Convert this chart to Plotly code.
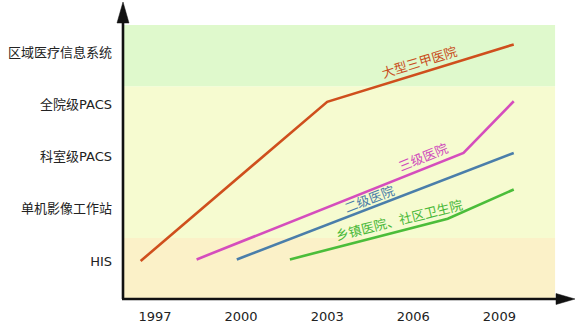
import plotly.graph_objects as go

# Adoption stages (y levels) and timeline ticks
stage_labels = ["HIS", "单机影像工作站", "科室级PACS", "全院级PACS", "区域医疗信息系统"]
stage_levels = [1, 2, 3, 4, 5]
year_ticks = [1997, 2000, 2003, 2006, 2009]

# Development paths of each hospital tier
big_years = [1996.5, 2003.0, 2009.5]
big_levels = [1.0, 4.05, 5.15]

tier3_years = [1998.45, 2007.75, 2009.5]
tier3_levels = [1.03, 3.07, 4.06]

tier2_years = [1999.85, 2009.5]
tier2_levels = [1.03, 3.07]

town_years = [2001.7, 2007.2, 2009.5]
town_levels = [1.03, 1.81, 2.37]

# Background bands: (from level, to level, colour)
band_edges = [0.272, 1.44, 4.35, 5.52]
band_colors = ["#fbf1c8", "#f6fbd0", "#dff9cc"]

X_RANGE = [1995.85, 2011.46]
Y_RANGE = [0.272, 5.943]
BAND_X_END = 2010.94

FONT = "DejaVu Sans, Noto Sans CJK SC, sans-serif"

fig = go.Figure()

series = [
    (big_years, big_levels, "#cf4f1d", "大型三甲医院"),
    (tier3_years, tier3_levels, "#d54dbd", "三级医院"),
    (tier2_years, tier2_levels, "#4a7eaa", "二级医院"),
    (town_years, town_levels, "#4bbd3a", "乡镇医院、社区卫生院"),
]
for xs, ys, color, name in series:
    fig.add_trace(go.Scatter(x=xs, y=ys, mode="lines", name=name,
                             line=dict(color=color, width=2.6),
                             hoverinfo="skip", showlegend=False))

shapes = []
for i, col in enumerate(band_colors):
    shapes.append(dict(type="rect", xref="x", yref="y", layer="below",
                       x0=X_RANGE[0], x1=BAND_X_END,
                       y0=band_edges[i], y1=band_edges[i + 1],
                       fillcolor=col, line=dict(width=0)))

# Axes drawn with arrowheads (paper coordinates of the plot area)
W, H = 448.0, 296.0
def px(dx):
    return dx / W
def py(dy):
    return dy / H

shapes.append(dict(type="line", xref="paper", yref="paper",
                   x0=px(1), x1=px(1), y0=0, y1=1 - py(18),
                   line=dict(color="#111", width=2.6)))
shapes.append(dict(type="line", xref="paper", yref="paper",
                   x0=px(0), x1=1 - px(8), y0=0, y1=0,
                   line=dict(color="#111", width=2.6)))
# y arrow head
shapes.append(dict(type="path", xref="paper", yref="paper",
                   path=f"M {px(1)},{1 + py(1)} L {px(-5)},{1 - py(20)} L {px(7)},{1 - py(20)} Z",
                   fillcolor="#111", line=dict(color="#111", width=0.5)))
# x arrow head
shapes.append(dict(type="path", xref="paper", yref="paper",
                   path=f"M {1 + px(5)},0 L {1 - px(14)},{py(5.5)} L {1 - px(14)},{-py(5.5)} Z",
                   fillcolor="#111", line=dict(color="#111", width=0.5)))

annotations = [
    dict(x=2006.2, y=4.83, text="大型三甲医院", textangle=-17, color="#c9501e"),
    dict(x=2006.35, y=3.0, text="三级医院", textangle=-22, color="#d04cbc"),
    dict(x=2004.45, y=2.2, text="二级医院", textangle=-21, color="#4a7ea8"),
    dict(x=2005.5, y=1.79, text="乡镇医院、社区卫生院", textangle=-14, color="#48b838"),
]
ann_list = []
for a in annotations:
    ann_list.append(dict(x=a["x"], y=a["y"], xref="x", yref="y", text=a["text"],
                         textangle=a["textangle"], showarrow=False,
                         font=dict(family="Noto Sans CJK SC, sans-serif",
                                   size=13, color=a["color"])))

fig.update_layout(
    width=576, height=327,
    margin=dict(l=122, r=6, t=3, b=28),
    paper_bgcolor="white", plot_bgcolor="white",
    shapes=shapes, annotations=ann_list,
    font=dict(family=FONT, size=13, color="#222"),
    xaxis=dict(range=X_RANGE, tickvals=year_ticks, ticktext=[str(y) for y in year_ticks],
               showgrid=False, zeroline=False, showline=False, ticks="",
               ticklabelstandoff=8, tickfont=dict(size=13, color="#222")),
    yaxis=dict(range=Y_RANGE, tickvals=stage_levels, ticktext=stage_labels,
               showgrid=False, zeroline=False, showline=False, ticks="",
               ticklabelstandoff=9, tickfont=dict(size=13, color="#222")),
)

fig.write_html("out.html")
